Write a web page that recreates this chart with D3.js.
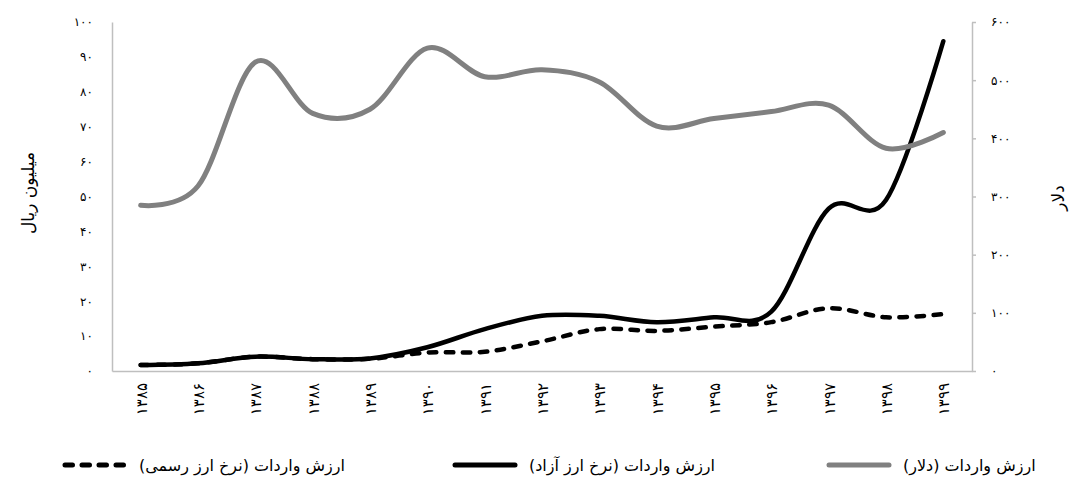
<!DOCTYPE html>
<html><head><meta charset="utf-8">
<script src="https://cdn.jsdelivr.net/npm/d3@7"></script>
<style>body{margin:0;background:#fff}svg{display:block}text{font-family:"DejaVu Sans","Liberation Serif",sans-serif}</style>
</head><body><svg id="c" width="1073" height="479"></svg>
<script>
const categories = ["۱۳۸۵","۱۳۸۶","۱۳۸۷","۱۳۸۸","۱۳۸۹","۱۳۹۰","۱۳۹۱","۱۳۹۲","۱۳۹۳","۱۳۹۴","۱۳۹۵","۱۳۹۶","۱۳۹۷","۱۳۹۸","۱۳۹۹"];
const dollarValues = [285, 318, 531, 443, 450, 555, 506, 518, 497, 421, 434, 446, 457, 383, 410];
const freeRateValues = [1.7, 2.2, 4.1, 3.4, 3.6, 6.8, 12, 15.8, 15.8, 14, 15.4, 17, 46.5, 49, 94.5];
const officialRateValues = [1.7, 2.2, 4.1, 3.4, 3.5, 5.3, 5.5, 8.5, 12, 11.5, 12.7, 14, 18, 15.4, 16.3];
const leftTicks = [0,10,20,30,40,50,60,70,80,90,100];
const rightTicks = [0,100,200,300,400,500,600];
const seriesNames = ["ارزش واردات (نرخ ارز رسمی)","ارزش واردات (نرخ ارز آزاد)","ارزش واردات (دلار)"];
const leftTitle = "میلیون ریال";
const rightTitle = "دلار";

const fa = n => String(n).replace(/\d/g, d => "۰۱۲۳۴۵۶۷۸۹"[d]);
const svg = d3.select("#c");
const L = 112, R = 972, T = 22, B = 371;
const x = d3.scaleBand().domain(categories).range([L, R]);
const yL = d3.scaleLinear().domain([0,100]).range([B, T]);
const yR = d3.scaleLinear().domain([0,600]).range([B, T]);
const axisColor = "#bfbfbf";

// axes
const gL = svg.append("g").attr("transform",`translate(${L},0)`)
  .call(d3.axisLeft(yL).tickValues(leftTicks).tickSize(0).tickPadding(19).tickFormat(fa));
gL.select(".domain").attr("stroke", axisColor).attr("stroke-width",1.5);
gL.selectAll("text").attr("font-size",12).attr("fill","#000");

const gR = svg.append("g").attr("transform",`translate(${R},0)`)
  .call(d3.axisRight(yR).tickValues(rightTicks).tickSizeInner(4).tickSizeOuter(0).tickPadding(15).tickFormat(fa));
gR.select(".domain").attr("stroke", axisColor).attr("stroke-width",1.5);
gR.selectAll(".tick line").attr("stroke", axisColor).attr("stroke-width",1.5);
gR.selectAll("text").attr("font-size",12).attr("fill","#000");

const gX = svg.append("g").attr("transform",`translate(0,${B})`)
  .call(d3.axisBottom(x).tickSize(0).tickPadding(0));
gX.select(".domain").attr("stroke", axisColor).attr("stroke-width",1.5);
gX.selectAll("text").attr("font-size",15).attr("fill","#000")
  .attr("text-anchor","end").attr("dy",null)
  .attr("transform","translate(6,12) rotate(-90)");

// titles
svg.append("text").attr("transform","translate(34,193) rotate(-90)").attr("text-anchor","middle")
  .attr("font-size",17).text(leftTitle);
svg.append("text").attr("transform","translate(1064,198) rotate(-90)").attr("text-anchor","middle")
  .attr("font-size",17).text(rightTitle);

// lines
const cx = c => x(c) + x.bandwidth()/2;
const curve = d3.curveCardinal.tension(0);
const lineL = d3.line().x((d,i)=>cx(categories[i])).y(d=>yL(d)).curve(curve);
const lineR = d3.line().x((d,i)=>cx(categories[i])).y(d=>yR(d)).curve(curve);

svg.append("path").attr("d", lineL(officialRateValues)).attr("fill","none")
  .attr("stroke","#000").attr("stroke-width",4.5).attr("stroke-linecap","round")
  .attr("stroke-dasharray","7.5,9.5");
svg.append("path").attr("d", lineL(freeRateValues)).attr("fill","none")
  .attr("stroke","#000").attr("stroke-width",4.5).attr("stroke-linecap","round");
svg.append("path").attr("d", lineR(dollarValues)).attr("fill","none")
  .attr("stroke","#808080").attr("stroke-width",5).attr("stroke-linecap","round");

// legend
const legendItems = [
  {name: seriesNames[0], color:"#000", dash:"7.5,9.5", x:62},
  {name: seriesNames[1], color:"#000", dash:null, x:452},
  {name: seriesNames[2], color:"#808080", dash:null, x:826}
];
const lg = svg.append("g");
legendItems.forEach(it => {
  lg.append("line").attr("x1",it.x+3).attr("x2",it.x+63).attr("y1",465).attr("y2",465)
    .attr("stroke",it.color).attr("stroke-width",5).attr("stroke-linecap","round")
    .attr("stroke-dasharray",it.dash);
  lg.append("text").attr("x",it.x+77).attr("y",471).attr("font-size",16)
    .attr("direction","ltr").text(it.name);
});
</script></body></html>
